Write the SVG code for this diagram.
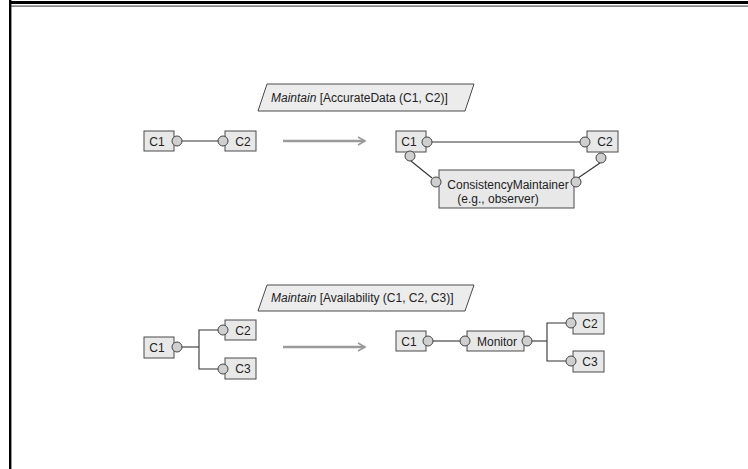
<svg xmlns="http://www.w3.org/2000/svg" width="748" height="469" viewBox="0 0 748 469">
  <style>
    .box { fill: #e8e8e8; stroke: #4a4a4a; stroke-width: 1; }
    .port { fill: #cfcfcf; stroke: #444; stroke-width: 1; }
    .wire { fill: none; stroke: #333; stroke-width: 1.1; }
    .goal { fill: #ececec; stroke: #4a4a4a; stroke-width: 1; }
    .lbl { font-family: "Liberation Sans", Arial, sans-serif; font-size: 12px; fill: #222; }
    .mid { text-anchor: middle; }
    .xform { fill: none; stroke: #9a9a9a; stroke-width: 2.5; }
  </style>
  <defs>
    <marker id="chev" viewBox="0 0 10 10" refX="8" refY="5" markerWidth="4" markerHeight="4" orient="auto" markerUnits="strokeWidth">
      <path d="M1,1 L8,5 L1,9" fill="none" stroke="#9a9a9a" stroke-width="1.6"/>
    </marker>
  </defs>

  <rect width="748" height="469" fill="#fff"/>
  <!-- page frame -->
  <rect x="9" y="1" width="739" height="3" fill="#000"/>
  <rect x="11" y="5.5" width="737" height="1.2" fill="#555"/>
  <rect x="9" y="0" width="2.4" height="469" fill="#000"/>

  <!-- goal labels -->
  <g id="goal-accurate">
    <polygon class="goal" points="267,84 474,84 465,111 258,111"/>
    <text class="lbl" x="271" y="102"><tspan font-style="italic">Maintain</tspan> [AccurateData (C1, C2)]</text>
  </g>
  <g id="goal-availability">
    <polygon class="goal" points="267,285 474,285 465,311 258,311"/>
    <text class="lbl" x="271" y="302"><tspan font-style="italic">Maintain</tspan> [Availability (C1, C2, C3)]</text>
  </g>

  <!-- connectors -->
  <g id="connectors">
    <line class="wire" x1="180" y1="141" x2="219" y2="141"/>
    <line class="xform" x1="283" y1="141" x2="365" y2="141" marker-end="url(#chev)"/>
    <line class="wire" x1="431" y1="142" x2="580" y2="142"/>
    <line class="wire" x1="411" y1="161" x2="432" y2="178"/>
    <line class="wire" x1="600" y1="163" x2="578" y2="178"/>

    <polyline class="wire" points="181,347 199,347"/>
    <polyline class="wire" points="219,330 199,330 199,369 219,369"/>
    <line class="xform" x1="283" y1="347" x2="365" y2="347" marker-end="url(#chev)"/>
    <line class="wire" x1="432" y1="341" x2="461" y2="341"/>
    <line class="wire" x1="531" y1="341" x2="547" y2="341"/>
    <polyline class="wire" points="566,323 547,323 547,361 566,361"/>
  </g>

  <!-- scenario 1, before -->
  <g id="s1-c1">
    <rect class="box" x="144" y="131" width="30" height="20"/>
    <text class="lbl mid" x="157" y="145.5">C1</text>
    <circle class="port" cx="177" cy="141" r="5"/>
  </g>
  <g id="s1-c2">
    <rect class="box" x="225" y="131" width="31" height="20"/>
    <text class="lbl mid" x="243" y="145.5">C2</text>
    <circle class="port" cx="223" cy="141" r="5"/>
  </g>

  <!-- scenario 1, after -->
  <g id="s1r-c1">
    <rect class="box" x="396" y="131" width="30" height="21"/>
    <text class="lbl mid" x="409" y="146">C1</text>
    <circle class="port" cx="427" cy="142" r="5"/>
    <circle class="port" cx="410" cy="156" r="5"/>
  </g>
  <g id="s1r-c2">
    <rect class="box" x="587" y="131" width="31" height="21"/>
    <text class="lbl mid" x="605" y="146">C2</text>
    <circle class="port" cx="585" cy="142" r="5"/>
    <circle class="port" cx="601" cy="158" r="5"/>
  </g>
  <g id="s1r-maintainer">
    <rect class="box" x="439" y="170" width="135" height="38"/>
    <text class="lbl mid" x="508" y="189">ConsistencyMaintainer</text>
    <text class="lbl mid" x="498" y="203">(e.g., observer)</text>
    <circle class="port" cx="436" cy="182" r="5"/>
    <circle class="port" cx="576" cy="182" r="5"/>
  </g>

  <!-- scenario 2, before -->
  <g id="s2-c1">
    <rect class="box" x="144" y="337" width="30" height="21"/>
    <text class="lbl mid" x="157" y="352">C1</text>
    <circle class="port" cx="177" cy="347" r="5"/>
  </g>
  <g id="s2-c2">
    <rect class="box" x="225" y="320" width="31" height="20"/>
    <text class="lbl mid" x="243" y="334.5">C2</text>
    <circle class="port" cx="223" cy="330" r="5"/>
  </g>
  <g id="s2-c3">
    <rect class="box" x="225" y="358" width="31" height="21"/>
    <text class="lbl mid" x="243" y="373">C3</text>
    <circle class="port" cx="223" cy="369" r="5"/>
  </g>

  <!-- scenario 2, after -->
  <g id="s2r-c1">
    <rect class="box" x="396" y="331" width="30" height="20"/>
    <text class="lbl mid" x="409" y="345.5">C1</text>
    <circle class="port" cx="428" cy="341" r="5"/>
  </g>
  <g id="s2r-monitor">
    <rect class="box" x="467" y="331" width="57" height="20"/>
    <text class="lbl mid" x="497" y="345.5">Monitor</text>
    <circle class="port" cx="465" cy="341" r="5"/>
    <circle class="port" cx="527" cy="341" r="5"/>
  </g>
  <g id="s2r-c2">
    <rect class="box" x="573" y="313" width="31" height="21"/>
    <text class="lbl mid" x="590" y="328">C2</text>
    <circle class="port" cx="571" cy="323" r="5"/>
  </g>
  <g id="s2r-c3">
    <rect class="box" x="573" y="351" width="31" height="21"/>
    <text class="lbl mid" x="590" y="366">C3</text>
    <circle class="port" cx="571" cy="361" r="5"/>
  </g>
</svg>
